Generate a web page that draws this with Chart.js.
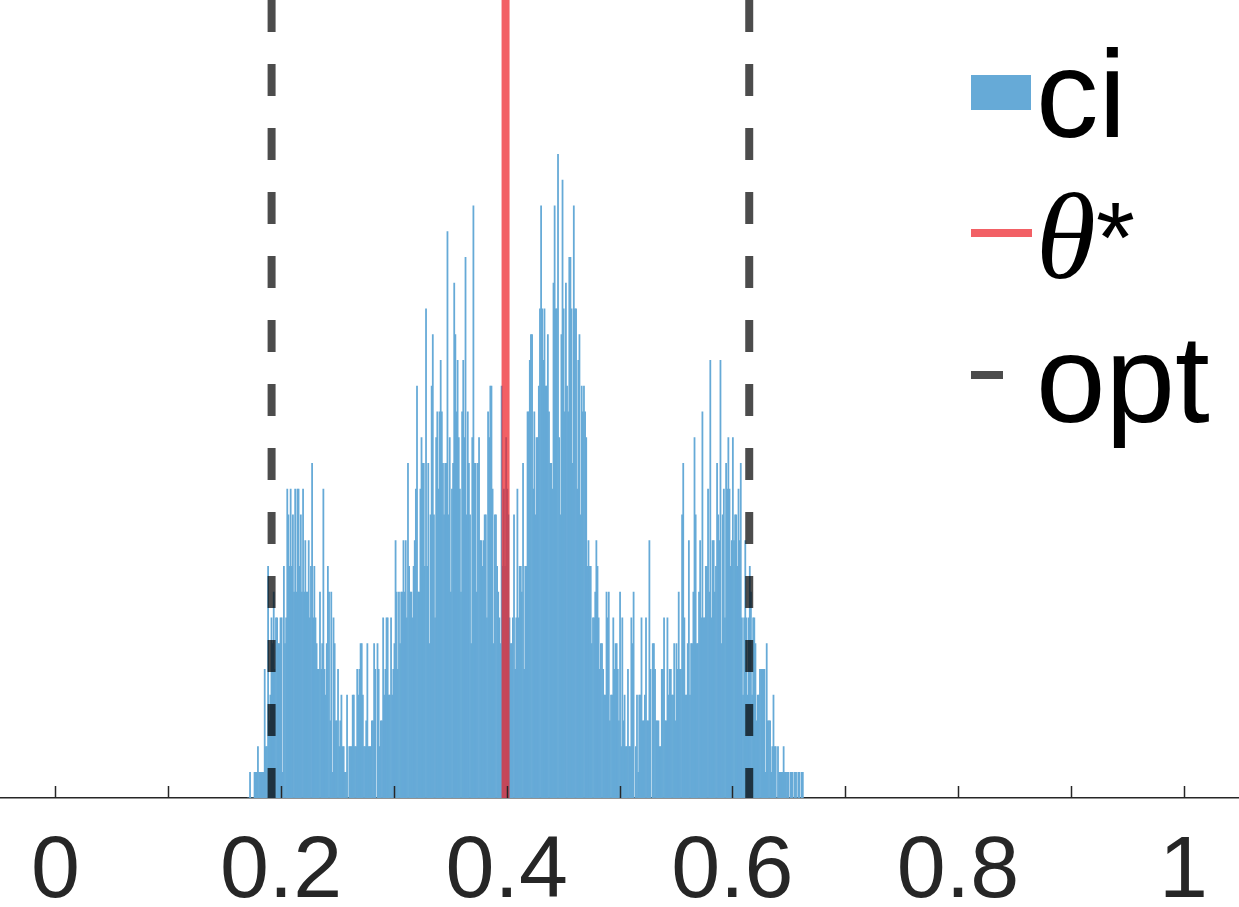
<!DOCTYPE html>
<html lang="en">
<head>
    <meta charset="UTF-8">
    <title>ci histogram</title>
    <script src="https://cdn.jsdelivr.net/npm/chart.js"></script>
    <style>
        html, body { margin: 0; padding: 0; background: #fff; }
        #wrap { position: relative; width: 1239px; height: 907px; }
    </style>
</head>
<body>
<div id="wrap"><canvas id="chart"></canvas></div>
<script>
    // histogram of ci: bins of width 0.001 starting at 0.170
    const binStart = 0.170;
    const binWidth = 0.001;
    const binCounts = [
        0,0,1,0,0,0,1,1,1,2,  1,1,1,1,1,5,2,2,9,3,
        4,7,6,8,5,7,7,6,6,7,  7,1,9,6,7,12,11,9,12,9,
        11,8,12,8,12,12,9,11,8,12,  8,10,8,8,10,7,9,13,7,9,
        7,6,5,5,8,5,6,12,5,4,  6,9,8,3,8,1,7,6,3,3,
        5,2,3,4,2,2,1,1,4,0,  2,2,2,4,4,2,2,5,4,5,
        6,6,4,2,2,3,6,2,2,2,  3,3,6,5,0,6,5,2,3,3,
        7,4,5,7,7,4,4,7,4,5,  6,10,8,5,8,6,8,8,10,8,
        10,7,13,9,8,8,7,9,10,12,  16,8,8,12,14,13,13,9,19,9,
        13,6,11,16,18,11,7,14,15,12,  15,17,15,13,11,13,13,22,11,14,
        8,12,13,20,18,15,17,14,12,8,  15,17,14,21,11,15,13,11,6,14,
        23,13,13,8,13,14,10,10,9,10,  11,11,7,15,14,16,16,12,6,11,
        11,9,8,7,6,16,9,12,9,14,  12,11,7,6,6,7,11,5,7,12,
        7,9,9,8,13,5,9,9,15,15,  17,18,18,12,15,11,14,14,16,19,
        23,19,17,19,16,16,18,15,13,13,  12,20,23,19,19,25,14,11,18,24,
        19,15,20,16,15,21,21,19,13,23,  19,19,12,17,18,11,16,15,16,15,
        14,9,10,9,9,6,7,7,8,10,  9,7,5,6,6,5,4,4,8,7,
        8,3,4,4,7,5,6,6,5,3,  8,2,7,3,4,2,2,5,2,2,
        7,6,8,0,2,4,1,4,4,7,  3,3,4,7,3,3,10,5,0,6,
        6,5,3,3,3,2,2,5,5,7,  3,3,7,4,5,5,4,4,6,3,
        6,5,8,5,5,11,13,7,4,4,  6,10,4,6,6,8,14,11,6,6,
        8,10,7,15,7,7,9,9,12,8,  17,7,10,10,8,9,13,11,10,17,
        6,11,12,7,13,12,14,12,9,10,  14,10,11,11,9,12,10,13,7,4,
        7,10,7,4,7,9,8,4,7,7,  6,3,4,4,5,5,5,5,5,1,
        6,3,3,3,1,2,4,2,2,0,  2,1,1,1,1,2,1,1,1,1,
        0,1,1,1,0,1,1,0,1,1,  0,1,1
    ];

    // vertical markers
    const thetaStar = [0.399];
    const optBounds = [0.1916, 0.615];

    const xTicks = [0, 0.1, 0.2, 0.3, 0.4, 0.5, 0.6, 0.7, 0.8, 0.9, 1];
    const xTickLabels = ['0', '', '0.2', '', '0.4', '', '0.6', '', '0.8', '', '1'];

    const legendNames = ['ci', 'θ', 'opt'];

    const yTop = 31;
    const blue = '#66aad7';
    const red = 'rgba(236, 28, 36, 0.7)';
    const grey = 'rgba(0, 0, 0, 0.7)';
    const axisColor = '#262626';

    const histData = binCounts.map((c, i) => ({ x: binStart + (i + 0.5) * binWidth, y: c }));

    function vline(x) {
        return [{ x: x, y: yTop }, { x: x, y: 0 }];
    }

    const lineSets = [];
    thetaStar.forEach(x => lineSets.push({
        type: 'line', label: 'theta', data: vline(x), borderColor: red, borderWidth: 8,
        pointRadius: 0, borderCapStyle: 'butt', order: 1
    }));
    optBounds.forEach(x => lineSets.push({
        type: 'line', label: 'opt', data: vline(x), borderColor: grey, borderWidth: 8,
        borderDash: [32, 32], pointRadius: 0, borderCapStyle: 'butt', order: 2
    }));

    // inward tick marks on the x axis
    const tickMarks = {
        id: 'tickMarks',
        afterDatasetsDraw(chart) {
            const ctx = chart.ctx;
            const sx = chart.scales.x;
            const y0 = chart.chartArea.bottom;
            ctx.save();
            ctx.strokeStyle = axisColor;
            ctx.lineWidth = 1.5;
            xTicks.forEach(v => {
                const px = Math.round(sx.getPixelForValue(v)) + 0.5;
                ctx.beginPath();
                ctx.moveTo(px, y0);
                ctx.lineTo(px, y0 - 12);
                ctx.stroke();
            });
            ctx.restore();
        }
    };

    // legend in the top right corner
    const cornerLegend = {
        id: 'cornerLegend',
        afterDraw(chart) {
            const ctx = chart.ctx;
            ctx.save();
            ctx.fillStyle = blue;
            ctx.fillRect(971, 75, 60, 35);

            ctx.fillStyle = red;
            ctx.fillRect(971, 229, 61, 8);

            ctx.fillStyle = grey;
            ctx.fillRect(971, 371, 32, 8);

            ctx.fillStyle = '#000';
            ctx.textBaseline = 'alphabetic';
            ctx.font = "125px 'Liberation Sans', Arial, sans-serif";
            ctx.fillText(legendNames[0], 1036, 137);
            ctx.fillText(legendNames[2], 1036, 422);
            ctx.font = "italic 122px 'Liberation Serif', 'DejaVu Serif', serif";
            ctx.fillText(legendNames[1], 1036, 278);
            ctx.font = "100px 'Liberation Sans', Arial, sans-serif";
            ctx.fillText('*', 1096, 272);
            ctx.restore();
        }
    };

    new Chart(document.getElementById('chart'), {
        type: 'bar',
        data: {
            datasets: [
                ...lineSets,
                {
                    label: 'ci', data: histData, backgroundColor: blue, borderWidth: 0,
                    barPercentage: 1, categoryPercentage: 1, grouped: false, order: 3
                }
            ]
        },
        options: {
            responsive: true,
            maintainAspectRatio: false,
            animation: false,
            layout: { padding: 0 },
            plugins: { legend: { display: false }, tooltip: { enabled: false } },
            scales: {
                x: {
                    type: 'linear',
                    min: -0.0487,
                    max: 1.0487,
                    offset: false,
                    z: 1,
                    afterBuildTicks: s => { s.ticks = xTicks.map(v => ({ value: v })); },
                    afterFit: s => { s.height = 109; },
                    grid: { display: true, drawOnChartArea: false, drawTicks: false },
                    border: { display: true, color: axisColor, width: 1.5 },
                    ticks: {
                        autoSkip: false,
                        maxRotation: 0,
                        padding: 31,
                        color: axisColor,
                        font: { family: "'Liberation Sans', Arial, sans-serif", size: 88, lineHeight: 1 },
                        callback: (v, i) => xTickLabels[i]
                    }
                },
                y: { display: false, min: 0, max: yTop }
            }
        },
        plugins: [tickMarks, cornerLegend]
    });
</script>
</body>
</html>
